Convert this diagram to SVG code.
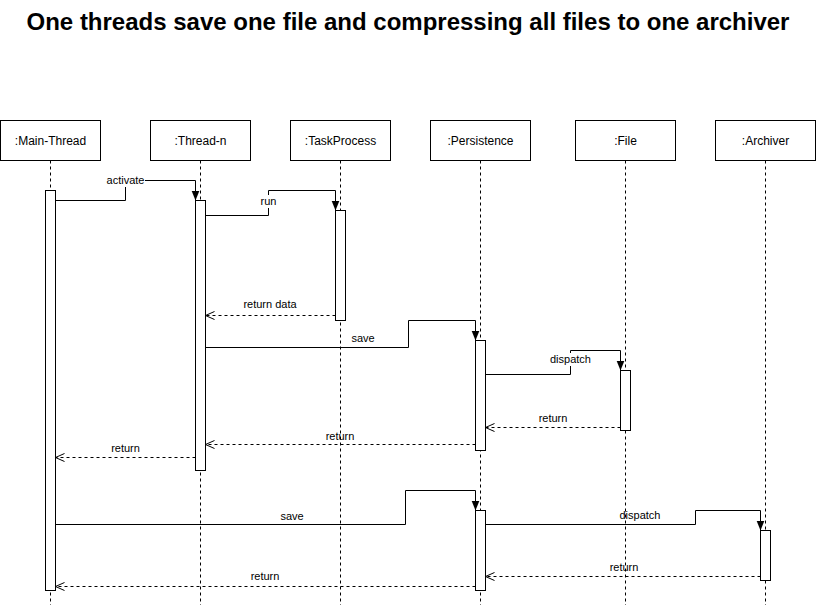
<svg xmlns="http://www.w3.org/2000/svg" width="816" height="611" viewBox="0 0 816 611">
<style>
.hd{fill:#fff;stroke:#000;stroke-width:1}
.ht{font-family:"Liberation Sans",Arial,sans-serif;font-size:12px;text-anchor:middle;fill:#000}
.ll{stroke:#000;stroke-width:1;stroke-dasharray:3 3;fill:none}
.act{fill:#fff;stroke:#000;stroke-width:1}
.msg{stroke:#000;stroke-width:1;fill:none}
.ret{stroke:#000;stroke-width:1;stroke-dasharray:3 3;fill:none}
.lb{font-family:"Liberation Sans",Arial,sans-serif;font-size:11px;text-anchor:middle;fill:#000}
.bg{fill:#fff}
</style>
<defs>
<marker id="blk" viewBox="0 0 10 10" refX="10" refY="5" markerWidth="10" markerHeight="10" markerUnits="userSpaceOnUse" orient="auto">
<path d="M0,1 L10,5 L0,9 Z" fill="#000"/>
</marker>
<marker id="open" viewBox="0 0 10 10" refX="10" refY="5" markerWidth="10" markerHeight="10" markerUnits="userSpaceOnUse" orient="auto">
<path d="M1,1 L10,5 L1,9" fill="none" stroke="#000" stroke-width="1"/>
</marker>
</defs>
<text x="408" y="30" font-family="'Liberation Sans',Arial,sans-serif" font-size="24" font-weight="bold" text-anchor="middle">One threads save one file and compressing all files to one archiver</text>
<g id="main-thread"><rect class="hd" x="0.5" y="120.5" width="100" height="40"/><text class="ht" x="50.5" y="145">:Main-Thread</text><line class="ll" x1="50.5" y1="160.5" x2="50.5" y2="605"/></g>
<g id="thread-n"><rect class="hd" x="150.5" y="120.5" width="100" height="40"/><text class="ht" x="200.5" y="145">:Thread-n</text><line class="ll" x1="200.5" y1="160.5" x2="200.5" y2="605"/></g>
<g id="taskprocess"><rect class="hd" x="290.5" y="120.5" width="100" height="40"/><text class="ht" x="340.5" y="145">:TaskProcess</text><line class="ll" x1="340.5" y1="160.5" x2="340.5" y2="605"/></g>
<g id="persistence"><rect class="hd" x="430.5" y="120.5" width="100" height="40"/><text class="ht" x="480.5" y="145">:Persistence</text><line class="ll" x1="480.5" y1="160.5" x2="480.5" y2="605"/></g>
<g id="file"><rect class="hd" x="575.5" y="120.5" width="100" height="40"/><text class="ht" x="625.5" y="145">:File</text><line class="ll" x1="625.5" y1="160.5" x2="625.5" y2="605"/></g>
<g id="archiver"><rect class="hd" x="715.5" y="120.5" width="100" height="40"/><text class="ht" x="765.5" y="145">:Archiver</text><line class="ll" x1="765.5" y1="160.5" x2="765.5" y2="605"/></g>
<g id="activations">
<rect id="act-main" class="act" x="45.5" y="190.5" width="10" height="400"/>
<rect id="act-thread" class="act" x="195.5" y="200.5" width="10" height="270"/>
<rect id="act-task" class="act" x="335.5" y="210.5" width="10" height="110"/>
<rect id="act-pers1" class="act" x="475.5" y="340.5" width="10" height="110"/>
<rect id="act-file" class="act" x="620.5" y="370.5" width="10" height="60"/>
<rect id="act-pers2" class="act" x="475.5" y="510.5" width="10" height="80"/>
<rect id="act-arch" class="act" x="760.5" y="530.5" width="10" height="50"/>
</g>
<g id="connectors">
<polyline class="msg" points="55.5,200.5 125.5,200.5 125.5,180.5 195.5,180.5 195.5,200.5" marker-end="url(#blk)"/>
<rect class="bg" x="106" y="174" width="39" height="13"/><text class="lb" x="125.5" y="184">activate</text>
<polyline class="msg" points="205.5,215.5 268.5,215.5 268.5,190.5 335.5,190.5 335.5,210.5" marker-end="url(#blk)"/>
<rect class="bg" x="259" y="195" width="19" height="13"/><text class="lb" x="268.5" y="205">run</text>
<line class="ret" x1="335.5" y1="315.5" x2="205.5" y2="315.5" marker-end="url(#open)"/>
<text class="lb" x="270" y="308">return data</text>
<polyline class="msg" points="205.5,347.5 408.5,347.5 408.5,320.5 475.5,320.5 475.5,340.5" marker-end="url(#blk)"/>
<text class="lb" x="363" y="342">save</text>
<polyline class="msg" points="485.5,374.5 570.5,374.5 570.5,350.5 620.5,350.5 620.5,370.5" marker-end="url(#blk)"/>
<rect class="bg" x="549" y="353" width="43" height="13"/><text class="lb" x="570.5" y="363">dispatch</text>
<line class="ret" x1="620.5" y1="427.5" x2="485.5" y2="427.5" marker-end="url(#open)"/>
<text class="lb" x="553" y="422">return</text>
<line class="ret" x1="475.5" y1="444.5" x2="205.5" y2="444.5" marker-end="url(#open)"/>
<text class="lb" x="340" y="440">return</text>
<line class="ret" x1="195.5" y1="457.5" x2="55.5" y2="457.5" marker-end="url(#open)"/>
<text class="lb" x="125.5" y="452">return</text>
<polyline class="msg" points="55.5,524.5 405.5,524.5 405.5,490.5 475.5,490.5 475.5,510.5" marker-end="url(#blk)"/>
<text class="lb" x="292" y="520">save</text>
<polyline class="msg" points="485.5,524.5 695.5,524.5 695.5,510.5 760.5,510.5 760.5,530.5" marker-end="url(#blk)"/>
<text class="lb" x="640" y="519">dispatch</text>
<line class="ret" x1="760.5" y1="576.5" x2="485.5" y2="576.5" marker-end="url(#open)"/>
<text class="lb" x="624" y="571">return</text>
<line class="ret" x1="475.5" y1="586.5" x2="55.5" y2="586.5" marker-end="url(#open)"/>
<text class="lb" x="265" y="580">return</text>
</g>
</svg>
